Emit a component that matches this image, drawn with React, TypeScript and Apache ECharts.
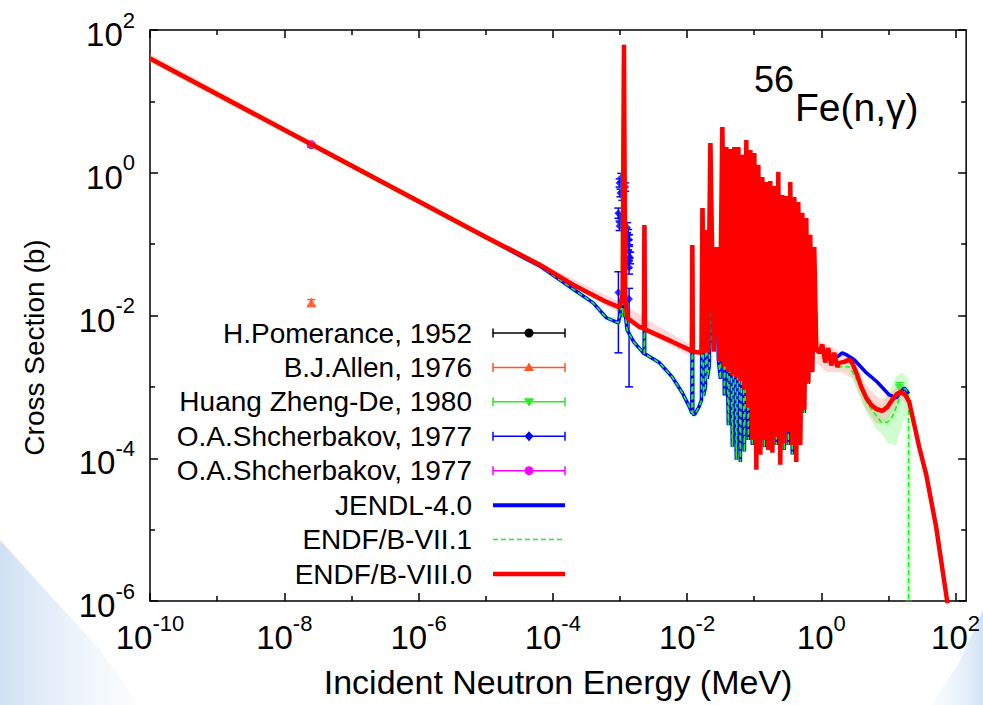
import { useEffect, useRef } from 'react';
import * as echarts from 'echarts';

const FONT = "'Liberation Sans', Arial, Helvetica, sans-serif";

// ---------------- axis ranges / ticks (decade exponents) ----------------
const xMinMeV = 1e-10;
const xMaxMeV = 144;
const yMinB = 1e-6;
const yMaxB = 100;
const xLabelExps = [-10, -8, -6, -4, -2, 0, 2];
const xMinorExps = [-9, -7, -5, -3, -1, 1];
const yLabelExps = [-6, -4, -2, 0, 2];
const yMinorExps = [-5, -3, -1, 1];

// ---------------- ENDF/B-VIII.0 ----------------
const endf80E = [
  1e-10, 2.53e-8, 1e-6, 1e-5, 6.3e-5, 2.0e-4, 6.3e-4, 9.9e-4, 1.10e-3, 1.15e-3, 1.20e-3, 1.28e-3, 1.95e-3, 2.28e-3,
  2.32e-3, 2.36e-3, 6.0e-3, 0.0109, 0.0118, 0.0120, 0.0122, 0.0164, 0.0170, 0.0180, 0.0194, 0.0205, 0.0223, 0.0250,
  0.0274, 0.0305, 0.0336,
  0.0360, 0.0386, 0.0413, 0.0442, 0.0474, 0.0507, 0.0543, 0.0582, 0.0623, 0.0667, 0.0715, 0.0765, 0.0820, 0.0878,
  0.0940, 0.1007, 0.1078, 0.1155, 0.1237, 0.1324, 0.1418, 0.1519, 0.1627, 0.1742, 0.1866, 0.1998, 0.2140, 0.2292,
  0.2454, 0.2628, 0.2815, 0.3014, 0.3228, 0.3457, 0.3702, 0.3964, 0.4246, 0.4546, 0.4870, 0.5215, 0.5585, 0.5981,
  0.6405, 0.6859, 0.7346, 0.7867, 0.8424,
  0.933, 1.035, 1.147, 1.27, 1.41, 1.56, 1.73,
  1.85, 2.20, 2.61, 2.89, 3.43, 3.94, 4.68, 5.55, 6.58, 8.09, 9.6, 11.4, 13.5, 15.5, 17.8, 20.4, 23.4, 28.7, 36.6,
  51.4, 75, 90,
];
const endf80XS = [
  40, 2.5, 0.40, 0.126, 0.052, 0.027, 0.0155, 0.013, 0.02, 62, 0.02, 0.0093, 0.0069, 0.0066,
  0.186, 0.0064, 0.0043, 0.0033, 0.0031, 0.097, 0.0031, 0.0030, 0.32, 0.0030, 0.158, 0.0030, 2.6, 0.0031,
  0.091, 0.0023, 4.38,
  0.00191, 2.30, 0.00162, 2.15, 0.00147, 2.30, 0.00134, 2.30, 0.00121, 1.78, 9.1e-4, 2.88, 5.1e-4, 2.09,
  1.81e-4, 1.89, 6.9e-5, 1.29, 1.12e-4, 0.873, 1.81e-4, 0.743, 1.31e-4, 0.768, 1.19e-4, 0.653, 1.99e-4, 1.03,
  8.1e-5, 0.489, 1.64e-4, 0.473, 2.34e-4, 0.743, 1.54e-4, 0.458, 8.9e-5, 0.390, 1.54e-4, 0.274, 4.76e-4, 0.233,
  1.14e-3, 0.135, 1.62e-3, 0.0913, 3.3e-3,
  0.0031, 0.0039, 0.0022, 0.0035, 0.0020, 0.0030, 0.0019,
  0.00217, 0.00224, 0.00241, 0.00217, 0.00147, 0.0010, 7.0e-4, 5.6e-4, 4.9e-4, 4.6e-4, 5.2e-4, 6.6e-4, 8.0e-4,
  8.5e-4, 7.7e-4, 6.2e-4, 3.45e-4, 1.45e-4, 5.9e-5, 1.09e-5, 1.0e-6, 3e-7,
];

// ---------------- JENDL-4.0 / ENDF/B-VII.1 (identical below 0.85 MeV) ----------------
const resolvedE = [
  1e-10, 2.53e-8, 1e-5, 4e-5, 6.3e-5, 2.0e-4, 4.0e-4, 6.3e-4, 9.5e-4, 1.05e-3, 1.10e-3, 1.15e-3, 1.18e-3, 1.20e-3,
  1.28e-3, 1.6e-3, 2.17e-3, 2.30e-3, 2.32e-3, 2.34e-3, 3.9e-3, 6.0e-3, 8.55e-3, 0.0109, 0.0118, 0.0120, 0.0122,
  0.0130, 0.0150, 0.0164, 0.0170, 0.0176, 0.0188, 0.0194, 0.0200, 0.0215, 0.0223, 0.0231, 0.0256, 0.0274, 0.0293,
  0.0315, 0.0336, 0.0360, 0.0386, 0.0413, 0.0442, 0.0474, 0.0507, 0.0543, 0.0582, 0.0623, 0.0667, 0.0715, 0.0765,
  0.0820, 0.0878, 0.0940, 0.1007, 0.1078, 0.1155, 0.1237, 0.1324, 0.1418, 0.1519, 0.1627, 0.1742, 0.1866, 0.1998,
  0.2140, 0.2292, 0.2454, 0.2628, 0.2815, 0.3014, 0.3228, 0.3457, 0.3702, 0.3964, 0.4246, 0.4546, 0.4870, 0.5215,
  0.5585, 0.5981, 0.6405, 0.6859, 0.7346, 0.7867, 0.8424,
];
const resolvedXS = [
  40, 2.5, 0.125, 0.062, 0.050, 0.0235, 0.0150, 0.0093, 0.0079, 0.0128, 0.0095, 30, 0.0095, 0.0106,
  0.0063, 0.0043, 0.0031, 0.0029, 0.17, 0.0029, 0.00217, 0.00138, 8.2e-4, 5.2e-4, 4.3e-4, 0.097, 4.2e-4,
  4.1e-4, 5.2e-4, 6.5e-4, 0.32, 7.5e-4, 1.0e-3, 0.158, 1.3e-3, 2.0e-3, 2.6, 3.5e-3, 6.3e-3, 0.091, 2.4e-3,
  1.3e-3, 4.38, 7.6e-4, 0.01, 2.9e-4, 0.01, 1.45e-4, 0.01, 9.5e-5, 0.01, 8.9e-5, 0.01, 1.24e-4, 0.01,
  1.81e-4, 0.01, 1.54e-4, 0.05, 1.31e-4, 0.05, 1.54e-4, 0.05, 1.43e-4, 0.05, 1.54e-4, 0.05, 1.24e-4, 0.05,
  1.54e-4, 0.05, 1.48e-4, 0.05, 1.31e-4, 0.05, 1.54e-4, 0.05, 1.13e-4, 0.05, 1.31e-4, 0.05, 1.81e-4, 0.05,
  4.3e-4, 0.05, 1.1e-3, 0.05, 1.6e-3, 0.05, 3.3e-3,
];
const jendlFastE = [0.933, 1.035, 1.147, 1.27, 1.41, 1.56, 1.73, 2.05, 2.4, 3.1, 4.68, 6.81, 10.3, 13.1, 17.2, 19.1, 20.0];
const jendlFastXS = [0.0030, 0.0034, 0.0024, 0.0031, 0.0023, 0.0027, 0.00263, 0.0030, 0.0028, 0.0024, 0.00158, 0.00117, 7.7e-4, 7.0e-4, 9.7e-4, 8.6e-4, 8.0e-4];
const endf71FastE = [0.933, 1.035, 1.147, 1.27, 1.41, 1.56, 1.85, 2.61, 3.21, 3.94, 4.84, 6.15, 7.82, 9.6, 11.4, 13.5, 16.0, 17.8, 19.7, 20.0, 20.0];
const endf71FastXS = [0.0030, 0.0033, 0.0023, 0.0030, 0.0022, 0.0026, 1.91e-3, 1.91e-3, 1.38e-3, 1.0e-3, 5.9e-4, 4.3e-4, 3.2e-4, 3.2e-4, 3.8e-4, 5.6e-4, 9.1e-4, 9.4e-4, 8.3e-4, 8.0e-4, 1e-9];

// ---------------- uncertainty bands ----------------
const thermalBandE = [1e-10, 1e-6, 1e-4, 1e-3, 3e-3, 1.1e-2];
const thermalBandLo = [35, 0.36, 0.036, 0.0108, 0.0053, 0.0027];
const thermalBandHi = [46, 0.44, 0.045, 0.0155, 0.008, 0.004];
const fastBand80E = [0.85, 1.2, 2.0, 3.0, 4.5, 6.5, 8.0, 10, 13, 16, 20];
const fastBand80Lo = [0.0022, 0.0016, 0.0016, 0.0013, 5.0e-4, 3.1e-4, 3.0e-4, 3.6e-4, 5.8e-4, 6.5e-4, 5.5e-4];
const fastBand80Hi = [0.0045, 0.0040, 0.0030, 0.0027, 1.1e-3, 7.5e-4, 6.8e-4, 7.5e-4, 1.0e-3, 1.1e-3, 7.5e-4];
const fastBand71E = [3.0, 4.5, 6.5, 8.0, 10, 13, 16, 20];
const fastBand71Lo = [1.2e-3, 4.8e-4, 2.6e-4, 2.2e-4, 1.6e-4, 1.5e-4, 3.0e-4, 5.0e-4];
const fastBand71Hi = [1.7e-3, 8.5e-4, 5.8e-4, 5.5e-4, 8.0e-4, 1.4e-3, 1.6e-3, 1.3e-3];

// ---------------- experimental data ----------------
const pomeranceE = [2.53e-8];
const pomeranceXS = [2.43];
const pomeranceLo = [2.3];
const pomeranceHi = [2.56];
const allenE = [2.53e-8];
const allenXS = [0.0152];
const allenLo = [0.0138];
const allenHi = [0.0167];
const huangE = [14.6];
const huangXS = [9.5e-4];
const huangLo = [7.8e-4];
const huangHi = [1.15e-3];
const shch77aE = [9.9e-4, 1.05e-3, 1.12e-3, 1.02e-3, 1.20e-3, 1.09e-3, 9.5e-4, 1.02e-3, 9.9e-4, 1.28e-3, 1.33e-3, 1.37e-3, 1.33e-3, 1.37e-3, 1.42e-3, 1.33e-3, 1.37e-3, 9.5e-4, 1.37e-3];
const shch77aXS = [0.72, 0.85, 0.57, 0.52, 0.63, 0.47, 0.27, 0.23, 0.18, 0.17, 0.135, 0.115, 0.098, 0.078, 0.064, 0.056, 0.047, 0.021, 0.017];
const shch77aLo = [0.63, 0.74, 0.50, 0.46, 0.55, 0.41, 0.23, 0.20, 0.155, 0.145, 0.115, 0.098, 0.083, 0.065, 0.053, 0.046, 0.038, 0.003, 0.001];
const shch77aHi = [0.82, 0.98, 0.65, 0.59, 0.72, 0.54, 0.32, 0.27, 0.21, 0.20, 0.16, 0.135, 0.115, 0.093, 0.077, 0.068, 0.058, 0.041, 0.024];
const shch77bE = [2.53e-8];
const shch77bXS = [2.5];
const shch77bLo = [2.42];
const shch77bHi = [2.58];

const legendLabels = [
  'H.Pomerance, 1952',
  'B.J.Allen, 1976',
  'Huang Zheng-De, 1980',
  'O.A.Shcherbakov, 1977',
  'O.A.Shcherbakov, 1977',
  'JENDL-4.0',
  'ENDF/B-VII.1',
  'ENDF/B-VIII.0',
];

// ---------------- helpers ----------------
const lg = Math.log10;
const pts = (E: number[], S: number[]) => E.map((e, i) => [lg(e), lg(S[i])]);

const C_BLACK = '#000000';
const C_ORANGE = '#ff5522';
const C_GREEN = '#22ee22';
const C_BLUE = '#0000ff';
const C_MAGENTA = '#ff00ff';
const C_RED = '#ff0000';

function bandSeries(E: number[], lo: number[], hi: number[], color: string) {
  return {
    type: 'custom',
    clip: true,
    silent: true,
    data: [[lg(E[0]), lg(lo[0])]],
    encode: { x: 0, y: 1 },
    renderItem: (_p: any, api: any) => {
      const top = E.map((e, i) => api.coord([lg(e), lg(hi[i])]));
      const bot = E.map((e, i) => api.coord([lg(e), lg(lo[i])])).reverse();
      return { type: 'polygon', shape: { points: top.concat(bot) }, style: { fill: color } };
    },
  };
}

function errorBarSeries(name: string, E: number[], XS: number[], lo: number[], hi: number[], color: string) {
  return {
    type: 'custom',
    name,
    clip: true,
    silent: true,
    data: E.map((e, i) => [lg(e), lg(XS[i]), lg(lo[i]), lg(hi[i])]),
    encode: { x: 0, y: 1 },
    renderItem: (_p: any, api: any) => {
      const x = api.value(0);
      const p1 = api.coord([x, api.value(2)]);
      const p2 = api.coord([x, api.value(3)]);
      const st = { stroke: color, lineWidth: 1.5 };
      return {
        type: 'group',
        children: [
          { type: 'line', shape: { x1: p1[0], y1: p1[1], x2: p2[0], y2: p2[1] }, style: st },
          { type: 'line', shape: { x1: p1[0] - 4, y1: p1[1], x2: p1[0] + 4, y2: p1[1] }, style: st },
          { type: 'line', shape: { x1: p2[0] - 4, y1: p2[1], x2: p2[0] + 4, y2: p2[1] }, style: st },
        ],
      };
    },
  };
}

function markerSeries(name: string, E: number[], XS: number[], color: string, symbol: string, size: number, rotate = 0) {
  return {
    type: 'scatter',
    name,
    data: pts(E, XS),
    symbol,
    symbolSize: size,
    symbolRotate: rotate,
    itemStyle: { color },
    silent: true,
  };
}

function lineSeries(name: string, data: number[][], color: string, width: number, dashed = false) {
  return {
    type: 'line',
    name,
    data,
    showSymbol: false,
    symbol: 'none',
    silent: true,
    lineStyle: { color, width, type: dashed ? [5, 3] : 'solid' },
  };
}

const supFormatter = (v: number) => {
  const r = Math.round(v);
  if (Math.abs(v - r) > 1e-6 || r % 2 !== 0) return '';
  return `{b|10}{s|${r}}`;
};
const richLabel = {
  b: { fontSize: 33, fontFamily: FONT, color: '#000', verticalAlign: 'bottom' },
  s: { fontSize: 22, fontFamily: FONT, color: '#000', lineHeight: 42, verticalAlign: 'top' },
};

function xAxisDef(position: string, ticks: number[], len: number, labels: boolean) {
  return {
    type: 'value',
    gridIndex: 0,
    position,
    min: lg(xMinMeV),
    max: lg(xMaxMeV),
    interval: 2,
    axisLine: { show: false, onZero: false },
    splitLine: { show: false },
    axisTick: { show: true, inside: true, length: len, customValues: ticks, lineStyle: { color: '#000', width: 1.5 } },
    axisLabel: labels
      ? { show: true, customValues: xLabelExps, formatter: supFormatter, rich: richLabel, margin: 11 }
      : { show: false },
  };
}
function yAxisDef(position: string, ticks: number[], len: number, labels: boolean) {
  return {
    type: 'value',
    gridIndex: 0,
    position,
    min: lg(yMinB),
    max: lg(yMaxB),
    interval: 2,
    axisLine: { show: false, onZero: false },
    splitLine: { show: false },
    axisTick: { show: true, inside: true, length: len, customValues: ticks, lineStyle: { color: '#000', width: 1.5 } },
    axisLabel: labels
      ? { show: true, customValues: yLabelExps, formatter: supFormatter, rich: richLabel, margin: 15, align: 'right' }
      : { show: false },
  };
}

// ---------------- legend graphics ----------------
function legendGraphics() {
  const els: any[] = [];
  const x1 = 493;
  const x2 = 565;
  const xm = 529;
  const styles = [
    { kind: 'err', color: C_BLACK, marker: 'circle' },
    { kind: 'err', color: C_ORANGE, marker: 'tri' },
    { kind: 'err', color: C_GREEN, marker: 'itri' },
    { kind: 'err', color: C_BLUE, marker: 'diamond' },
    { kind: 'err', color: C_MAGENTA, marker: 'circle' },
    { kind: 'line', color: C_BLUE, width: 4 },
    { kind: 'dash', color: C_GREEN, width: 1.5 },
    { kind: 'line', color: C_RED, width: 4.5 },
  ];
  legendLabels.forEach((label, i) => {
    const y = 333 + i * 34.43;
    const s: any = styles[i];
    els.push({
      type: 'text',
      x: 472,
      y,
      z: 100,
      style: { text: label, fontSize: 28, fontFamily: FONT, fill: '#000', align: 'right', verticalAlign: 'middle' },
    });
    if (s.kind === 'err') {
      const st = { stroke: s.color, lineWidth: 1.5 };
      els.push({ type: 'line', z: 100, shape: { x1, y1: y, x2, y2: y }, style: st });
      els.push({ type: 'line', z: 100, shape: { x1, y1: y - 4.5, x2: x1, y2: y + 4.5 }, style: st });
      els.push({ type: 'line', z: 100, shape: { x1: x2, y1: y - 4.5, x2, y2: y + 4.5 }, style: st });
      if (s.marker === 'circle') {
        els.push({ type: 'circle', z: 101, shape: { cx: xm, cy: y, r: 4.5 }, style: { fill: s.color } });
      } else if (s.marker === 'tri') {
        els.push({ type: 'polygon', z: 101, shape: { points: [[xm, y - 5], [xm + 5, y + 3.5], [xm - 5, y + 3.5]] }, style: { fill: s.color } });
      } else if (s.marker === 'itri') {
        els.push({ type: 'polygon', z: 101, shape: { points: [[xm, y + 5], [xm + 5, y - 3.5], [xm - 5, y - 3.5]] }, style: { fill: s.color } });
      } else {
        els.push({ type: 'polygon', z: 101, shape: { points: [[xm, y - 5], [xm + 4.5, y], [xm, y + 5], [xm - 4.5, y]] }, style: { fill: s.color } });
      }
    } else {
      els.push({
        type: 'line',
        z: 100,
        shape: { x1, y1: y, x2, y2: y },
        style: { stroke: s.color, lineWidth: s.width, lineDash: s.kind === 'dash' ? [5, 3] : null },
      });
    }
  });
  return els;
}

function buildOption() {
  const jendl = pts(resolvedE.concat(jendlFastE), resolvedXS.concat(jendlFastXS));
  const endf71 = pts(resolvedE.concat(endf71FastE), resolvedXS.concat(endf71FastXS));
  const endf80 = pts(endf80E, endf80XS);

  return {
    animation: false,
    backgroundColor: '#ffffff',
    textStyle: { fontFamily: FONT },
    grid: { left: 150, top: 30, right: 16, bottom: 104, show: true, borderColor: '#000', borderWidth: 1.5, backgroundColor: 'transparent' },
    xAxis: [
      {
        ...xAxisDef('bottom', xLabelExps, 8, true),
        name: 'Incident Neutron Energy (MeV)',
        nameLocation: 'middle',
        nameGap: 64,
        nameTextStyle: { fontSize: 34, color: '#000', fontFamily: FONT },
      },
      xAxisDef('bottom', xMinorExps, 5, false),
      xAxisDef('top', xLabelExps, 8, false),
      xAxisDef('top', xMinorExps, 5, false),
    ],
    yAxis: [
      {
        ...yAxisDef('left', yLabelExps, 8, true),
        name: 'Cross Section (b)',
        nameLocation: 'middle',
        nameGap: 102,
        nameTextStyle: { fontSize: 28, color: '#000', fontFamily: FONT, padding: [0, 64, 0, 0] },
      },
      yAxisDef('left', yMinorExps, 5, false),
      yAxisDef('right', yLabelExps, 8, false),
      yAxisDef('right', yMinorExps, 5, false),
    ],
    graphic: [
      {
        type: 'polygon',
        z: -10,
        silent: true,
        shape: { points: [[0, 540], [50, 595], [100, 650], [140, 705], [0, 705]] },
        style: {
          fill: {
            type: 'linear', x: 0, y: 0, x2: 1, y2: 0,
            colorStops: [
              { offset: 0, color: 'rgba(195,216,240,0.8)' },
              { offset: 1, color: 'rgba(230,240,250,0.15)' },
            ],
          },
        },
      },
      {
        type: 'polygon',
        z: -10,
        silent: true,
        shape: { points: [[983, 610], [983, 705], [930, 705], [958, 665]] },
        style: {
          fill: {
            type: 'linear', x: 1, y: 0, x2: 0, y2: 0,
            colorStops: [
              { offset: 0, color: 'rgba(195,216,240,0.75)' },
              { offset: 1, color: 'rgba(230,240,250,0.15)' },
            ],
          },
        },
      },
      { type: 'text', x: 754, y: 79, z: 100, style: { text: '56', fontSize: 36, fontFamily: FONT, fill: '#000', align: 'left', verticalAlign: 'middle' } },
      { type: 'text', x: 795, y: 107, z: 100, style: { text: 'Fe(n,γ)', fontSize: 39, fontFamily: FONT, fill: '#000', align: 'left', verticalAlign: 'middle' } },
      ...legendGraphics(),
    ],
    series: [
      lineSeries('halo', endf71, 'rgba(120,255,120,0.22)', 7),
      bandSeries(thermalBandE, thermalBandLo, thermalBandHi, 'rgba(255,150,150,0.35)'),
      bandSeries(fastBand71E, fastBand71Lo, fastBand71Hi, 'rgba(150,250,150,0.45)'),
      bandSeries(fastBand80E, fastBand80Lo, fastBand80Hi, 'rgba(255,160,160,0.4)'),
      lineSeries('JENDL-4.0', jendl, C_BLUE, 3.5),
      lineSeries('ENDF/B-VII.1', endf71, C_GREEN, 1.6, true),
      errorBarSeries('O.A.Shcherbakov, 1977', shch77aE, shch77aXS, shch77aLo, shch77aHi, C_BLUE),
      markerSeries('O.A.Shcherbakov, 1977', shch77aE, shch77aXS, C_BLUE, 'diamond', 8),
      lineSeries('ENDF/B-VIII.0', endf80, C_RED, 4.5),
      errorBarSeries('H.Pomerance, 1952', pomeranceE, pomeranceXS, pomeranceLo, pomeranceHi, C_BLACK),
      markerSeries('H.Pomerance, 1952', pomeranceE, pomeranceXS, C_BLACK, 'circle', 8),
      errorBarSeries('B.J.Allen, 1976', allenE, allenXS, allenLo, allenHi, C_ORANGE),
      markerSeries('B.J.Allen, 1976', allenE, allenXS, C_ORANGE, 'triangle', 10),
      errorBarSeries('Huang Zheng-De, 1980', huangE, huangXS, huangLo, huangHi, C_GREEN),
      markerSeries('Huang Zheng-De, 1980', huangE, huangXS, C_GREEN, 'triangle', 9, 180),
      errorBarSeries('O.A.Shcherbakov, 1977 ', shch77bE, shch77bXS, shch77bLo, shch77bHi, C_MAGENTA),
      markerSeries('O.A.Shcherbakov, 1977 ', shch77bE, shch77bXS, C_MAGENTA, 'circle', 9),
    ],
  };
}

export default function App() {
  const ref = useRef<HTMLDivElement>(null);
  useEffect(() => {
    if (!ref.current) return;
    const chart = echarts.init(ref.current, null, { renderer: 'svg' });
    chart.setOption(buildOption() as any);
    return () => chart.dispose();
  }, []);
  return (
    <div
      ref={ref}
      style={{ position: 'fixed', left: 0, top: 0, width: 983, height: 705, background: '#fff' }}
    />
  );
}
